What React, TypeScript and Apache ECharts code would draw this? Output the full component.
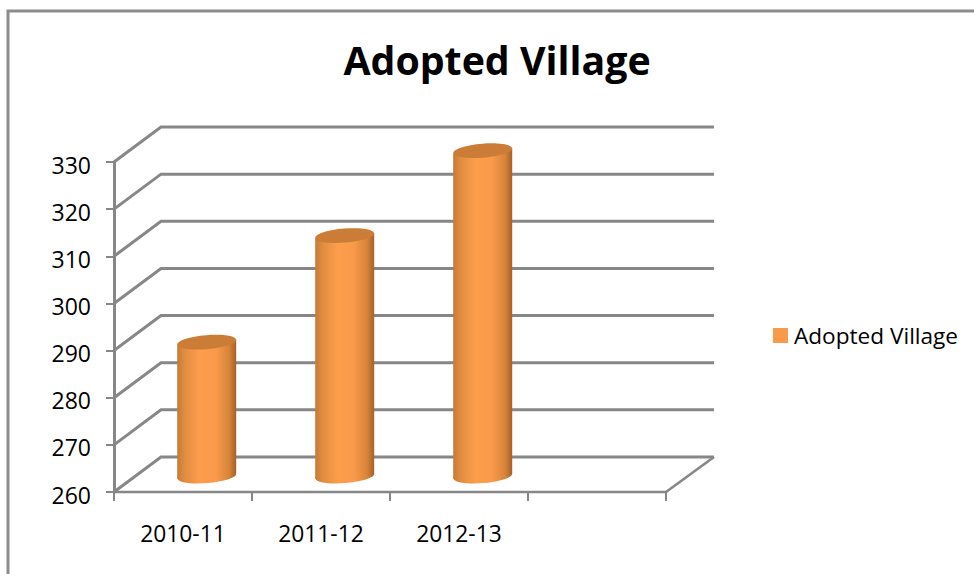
import React, { useEffect, useRef } from "react";
import * as echarts from "echarts";

const categories = ["2010-11", "2011-12", "2012-13", ""];
const seriesName = "Adopted Village";
const values = [288.4, 311, 329];
const gridValues = [260, 270, 280, 290, 300, 310, 320, 330];

const LINE = "#878787";
const DX = 47;
const DY = 35;
const BAR_DX = 23.7;
const BAR_DY = 16;
const RX = 29.5;
const RY = 7;
const TILT = 2.5;

function renderWall(params: any, api: any) {
  const cs = params.coordSys;
  const p = api.coord([0, api.value(1)]);
  const y = p[1];
  const x0 = cs.x;
  return {
    type: "polyline",
    shape: { points: [[x0, y], [x0 + DX, y - DY], [x0 + cs.width + DX + 1, y - DY]] },
    style: { stroke: LINE, lineWidth: 3, fill: "none" },
  };
}

function renderFloorEdge(params: any, api: any) {
  const cs = params.coordSys;
  const y = api.coord([0, 260])[1];
  const x = cs.x + cs.width;
  return {
    type: "line",
    shape: { x1: x, y1: y, x2: x + DX + 1, y2: y - DY },
    style: { stroke: LINE, lineWidth: 2.6 },
  };
}

const bodyFill = () =>
  new echarts.graphic.LinearGradient(0, 0, 1, 0, [
    { offset: 0, color: "#C47A36" },
    { offset: 0.12, color: "#E08C40" },
    { offset: 0.38, color: "#FD9E4C" },
    { offset: 0.66, color: "#F9994A" },
    { offset: 0.88, color: "#D68439" },
    { offset: 1, color: "#A56029" },
  ]);

function renderCylinder(_: any, api: any) {
  const top = api.coord([api.value(0), api.value(1)]);
  const base = api.coord([api.value(0), 260]);
  const cx = top[0] + BAR_DX;
  const ty = top[1] - BAR_DY;
  const by = base[1] - BAR_DY;
  return {
    type: "group",
    children: [
      {
        type: "ellipse",
        shape: { cx, cy: by, rx: RX, ry: RY },
        rotation: 0.08,
        originX: cx,
        originY: by,
        style: { fill: bodyFill() },
      },
      {
        type: "polygon",
        shape: {
          points: [
            [cx - RX, ty + TILT],
            [cx + RX, ty - TILT],
            [cx + RX, by - TILT],
            [cx - RX, by + TILT],
          ],
        },
        style: { fill: bodyFill() },
      },
      {
        type: "ellipse",
        shape: { cx, cy: ty, rx: RX, ry: RY },
        rotation: 0.08,
        originX: cx,
        originY: ty,
        style: { fill: "#CB7D37" },
      },
    ],
  };
}

export default function App() {
  const ref = useRef<HTMLDivElement>(null);
  useEffect(() => {
    const chart = echarts.init(ref.current!, undefined, { renderer: "svg" });
    const font = "'Open Sans', sans-serif";
    chart.setOption({
      animation: false,
      backgroundColor: "#ffffff",
      title: {
        text: seriesName,
        left: 492,
        top: 35,
        textAlign: "center",
        textStyle: { fontFamily: font, fontSize: 39.3, fontWeight: "bold", color: "#000" },
      },
      legend: {
        data: [{ name: seriesName, icon: "rect" }],
        left: 773,
        top: 324,
        padding: 0,
        itemWidth: 15,
        itemHeight: 15,
        itemGap: 0,
        selectedMode: false,
        textStyle: { fontFamily: font, fontSize: 22.6, color: "#000", padding: [0, 0, 0, 1] },
      },
      grid: { left: 114, top: 162, width: 552, height: 330 },
      xAxis: {
        type: "category",
        data: categories,
        axisLine: { lineStyle: { color: LINE, width: 2.4 } },
        axisTick: { show: true, length: 9, lineStyle: { color: LINE, width: 2 } },
        axisLabel: { interval: 0, margin: 30, fontFamily: font, fontSize: 22.8, color: "#000" },
      },
      yAxis: {
        type: "value",
        min: 260,
        max: 330,
        interval: 10,
        splitLine: { show: false },
        axisLine: { show: true, lineStyle: { color: LINE, width: 3 } },
        axisTick: { show: true, length: 8, lineStyle: { color: LINE, width: 2 } },
        axisLabel: { margin: 23, fontFamily: font, fontSize: 23, color: "#000", verticalAlign: "top", lineHeight: 5 },
      },
      series: [
        {
          type: "custom",
          name: "wall",
          renderItem: renderWall,
          data: gridValues.map((v) => [0, v]),
          silent: true,
          z: 1,
        },
        {
          type: "custom",
          name: "floor",
          renderItem: renderFloorEdge,
          data: [[0, 260]],
          silent: true,
          z: 1,
        },
        {
          type: "custom",
          name: seriesName,
          renderItem: renderCylinder,
          itemStyle: { color: "#F89A4A" },
          data: values.map((v, i) => [i, v]),
          z: 3,
        },
      ],
      graphic: [
        {
          type: "polyline",
          shape: { points: [[8, 574], [8, 11], [974, 11]] },
          style: { stroke: "#8C8C8C", lineWidth: 3, fill: "none" },
        },
      ],
    });
    return () => chart.dispose();
  }, []);
  return <div ref={ref} style={{ position: "absolute", left: 0, top: 0, width: 974, height: 574 }} />;
}
